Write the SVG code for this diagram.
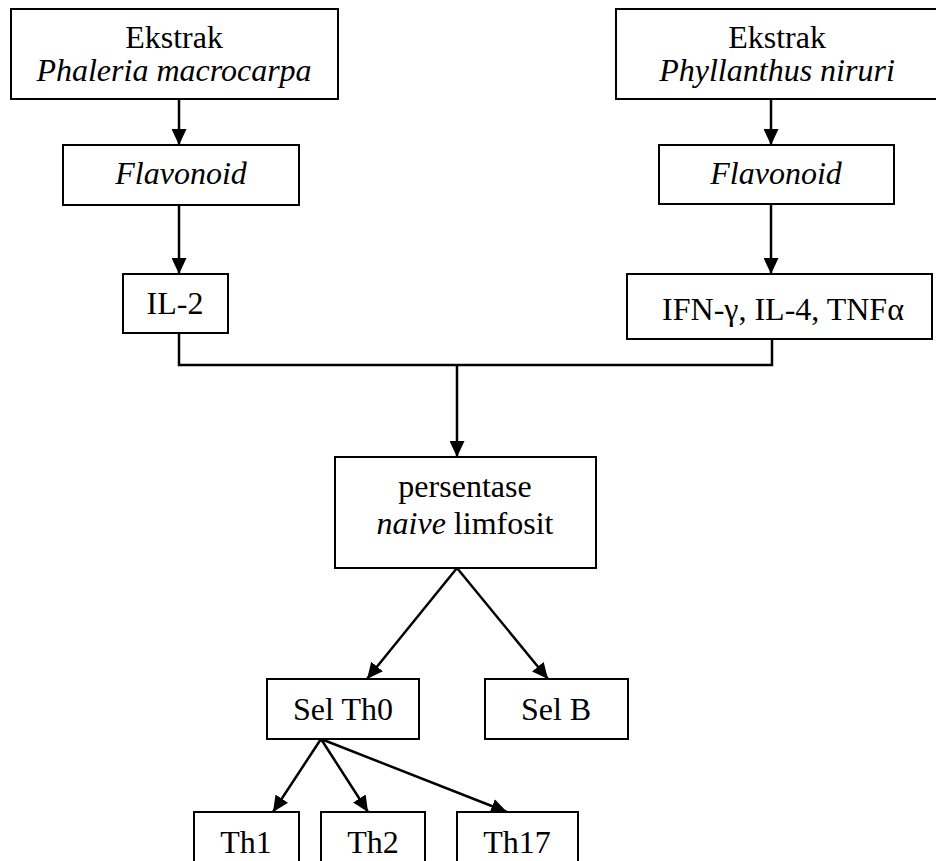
<svg xmlns="http://www.w3.org/2000/svg" width="936" height="861" viewBox="0 0 936 861">
<style>
.box{fill:#fff;stroke:#000;stroke-width:2}
.t{font-family:"Liberation Serif","Times New Roman",serif;font-size:32px;fill:#000;text-anchor:middle}
.i{font-style:italic}
.c{fill:none;stroke:#000;stroke-width:2.5}
</style>
<defs>
<marker id="ah" markerUnits="userSpaceOnUse" markerWidth="16" markerHeight="15" viewBox="0 0 16 15" refX="16" refY="7.5" orient="auto">
<path d="M0,0 L16,7.5 L0,15 z" fill="#000"/>
</marker>
</defs>
<rect width="936" height="861" fill="#fff"/>
<g id="connectors">
<line class="c" x1="179" y1="99" x2="179" y2="145" marker-end="url(#ah)"/>
<line class="c" x1="771" y1="99" x2="771" y2="145" marker-end="url(#ah)"/>
<line class="c" x1="179" y1="205" x2="179" y2="274" marker-end="url(#ah)"/>
<line class="c" x1="771" y1="204" x2="771" y2="274" marker-end="url(#ah)"/>
<polyline class="c" points="179,333 179,365 772,365 772,339"/>
<line class="c" x1="457" y1="365" x2="457" y2="457" marker-end="url(#ah)"/>
<line class="c" x1="457" y1="568" x2="367" y2="679" marker-end="url(#ah)"/>
<line class="c" x1="457" y1="568" x2="548" y2="679" marker-end="url(#ah)"/>
<line class="c" x1="321" y1="739" x2="273" y2="812" marker-end="url(#ah)"/>
<line class="c" x1="321" y1="739" x2="368" y2="812" marker-end="url(#ah)"/>
<line class="c" x1="321" y1="739" x2="507" y2="812" marker-end="url(#ah)"/>
</g>
<g id="ekstrak-phaleria">
<rect class="box" x="11" y="9" width="327" height="90"/>
<text class="t" x="174" y="48">Ekstrak</text>
<text class="t i" x="174" y="81">Phaleria macrocarpa</text>
</g>
<g id="ekstrak-phyllanthus">
<rect class="box" x="616" y="9" width="330" height="90"/>
<text class="t" x="777" y="48">Ekstrak</text>
<text class="t i" x="777" y="81">Phyllanthus niruri</text>
</g>
<g id="flavonoid-left">
<rect class="box" x="63" y="145" width="236" height="60"/>
<text class="t i" x="181" y="184">Flavonoid</text>
</g>
<g id="flavonoid-right">
<rect class="box" x="659" y="145" width="235" height="59"/>
<text class="t i" x="776" y="184">Flavonoid</text>
</g>
<g id="il2">
<rect class="box" x="123" y="274" width="105" height="59"/>
<text class="t" x="175" y="314">IL-2</text>
</g>
<g id="ifn">
<rect class="box" x="627" y="274" width="305" height="65"/>
<text class="t" x="783" y="320">IFN-γ, IL-4, TNFα</text>
</g>
<g id="persentase">
<rect class="box" x="335" y="457" width="261" height="111"/>
<text class="t" x="465" y="497">persentase</text>
<text class="t" x="465" y="534"><tspan class="i">naive</tspan> limfosit</text>
</g>
<g id="sel-th0">
<rect class="box" x="267" y="679" width="152" height="60"/>
<text class="t" x="343" y="720">Sel Th0</text>
</g>
<g id="sel-b">
<rect class="box" x="485" y="679" width="143" height="60"/>
<text class="t" x="556" y="720">Sel B</text>
</g>
<g id="th1">
<rect class="box" x="194" y="812" width="105" height="60"/>
<text class="t" x="246" y="853">Th1</text>
</g>
<g id="th2">
<rect class="box" x="321" y="812" width="104" height="60"/>
<text class="t" x="373" y="853">Th2</text>
</g>
<g id="th17">
<rect class="box" x="457" y="812" width="121" height="60"/>
<text class="t" x="517" y="853">Th17</text>
</g>
</svg>
